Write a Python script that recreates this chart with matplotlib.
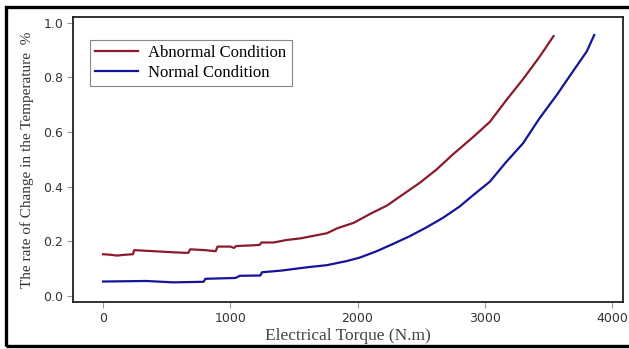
import matplotlib
matplotlib.use("Agg")
import matplotlib.pyplot as plt
from matplotlib.patches import Rectangle

# Data
abnormal_x = [0, 60, 110, 170, 235, 245, 400, 600, 670, 685, 800, 885, 900, 1000, 1030, 1045,
              1150, 1230, 1245, 1340, 1440, 1550, 1650, 1760, 1840, 1970, 2100, 2230, 2360,
              2490, 2620, 2750, 2910, 3040, 3170, 3300, 3430, 3540]
abnormal_y = [0.152, 0.150, 0.147, 0.150, 0.152, 0.167, 0.163, 0.158, 0.157, 0.170, 0.167,
              0.163, 0.180, 0.180, 0.175, 0.182, 0.184, 0.186, 0.195, 0.195, 0.204, 0.210,
              0.219, 0.229, 0.247, 0.267, 0.300, 0.330, 0.372, 0.414, 0.462, 0.518, 0.582,
              0.637, 0.717, 0.793, 0.875, 0.951]

normal_x = [0, 340, 550, 790, 805, 1040, 1075, 1235, 1250, 1400, 1600, 1760, 1915, 2020, 2150,
            2280, 2410, 2540, 2670, 2800, 2910, 3040, 3170, 3300, 3430, 3565, 3700, 3800, 3860]
normal_y = [0.052, 0.054, 0.049, 0.051, 0.062, 0.065, 0.073, 0.074, 0.086, 0.092, 0.104,
            0.112, 0.127, 0.140, 0.163, 0.190, 0.218, 0.250, 0.285, 0.326, 0.369, 0.418,
            0.491, 0.558, 0.650, 0.735, 0.827, 0.894, 0.955]

x_ticks = [0, 1000, 2000, 3000, 4000]
y_ticks = [0.0, 0.2, 0.4, 0.6, 0.8, 1.0]
series_labels = ["Abnormal Condition", "Normal Condition"]
x_label = "Electrical Torque (N.m)"
y_label = "The rate of Change in the Temperature  %"

W, H = 629, 349
fig = plt.figure(figsize=(W / 100, H / 100), dpi=100)
fig.patch.set_facecolor("white")

# outer black frame (left, top, bottom visible)
fig.patches.append(Rectangle((6.5 / W, 1 - 345.5 / H), 1.2, (345.5 - 6.5) / H,
                             transform=fig.transFigure, fill=False,
                             edgecolor="black", linewidth=2.4, zorder=0))

ax = fig.add_axes([73 / W, 1 - 302 / H, (623 - 73) / W, (302 - 17) / H])
ax.plot(abnormal_x, abnormal_y, color="#8B1A2C", lw=1.6, label=series_labels[0])
ax.plot(normal_x, normal_y, color="#14149A", lw=1.6, label=series_labels[1])

ax.set_xlim(-236, 4086)
ax.set_ylim(-0.023, 1.021)
ax.set_xticks(x_ticks)
ax.set_yticks(y_ticks)
ax.set_yticklabels([f"{v:.1f}" for v in y_ticks])

for s in ax.spines.values():
    s.set_color("#222222")
    s.set_linewidth(1.3)
ax.tick_params(direction="out", length=4, width=0.8, color="#999999",
               labelsize=9, labelcolor="#333333", pad=3)

serif = ["Liberation Serif", "DejaVu Serif"]
ax.set_xlabel(x_label, family=serif, fontsize=12.5, color="#444444", labelpad=2)
ax.set_ylabel(y_label, family=serif, fontsize=11, color="#333333", labelpad=7)

leg = ax.legend(loc="upper left", bbox_to_anchor=(0.031, 0.919), borderaxespad=0,
                prop={"family": serif, "size": 12}, fancybox=False, framealpha=1,
                edgecolor="#888888", handlelength=2.6, labelspacing=0.25,
                borderpad=0.3, handletextpad=0.6)
leg.get_frame().set_linewidth(0.8)

fig.savefig("out.png", dpi=100)
